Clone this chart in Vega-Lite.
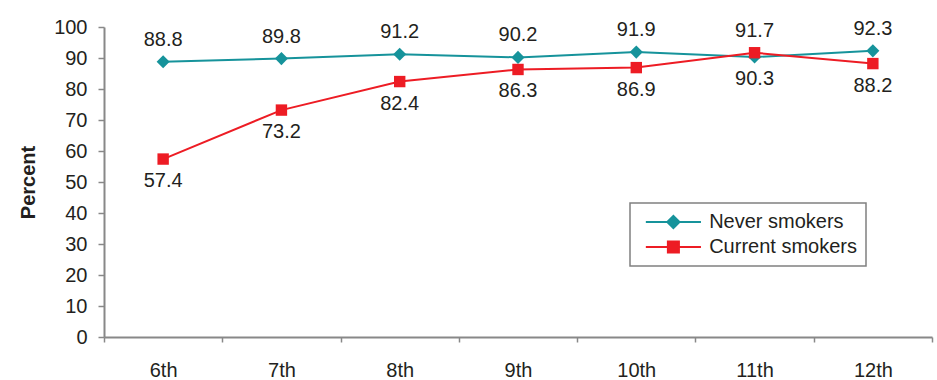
{
  "$schema": "https://vega.github.io/schema/vega-lite/v6.json",
  "width": 828,
  "height": 310,
  "autosize": {"type": "none"},
  "padding": {"left": 104, "top": 27, "right": 5, "bottom": 43},
  "background": "white",
  "config": {
    "font": "Liberation Sans",
    "view": {"stroke": null}
  },
  "data": {
    "values": [
      {"grade": "6th", "series": "Never smokers", "value": 88.8},
      {"grade": "7th", "series": "Never smokers", "value": 89.8},
      {"grade": "8th", "series": "Never smokers", "value": 91.2},
      {"grade": "9th", "series": "Never smokers", "value": 90.2},
      {"grade": "10th", "series": "Never smokers", "value": 91.9},
      {"grade": "11th", "series": "Never smokers", "value": 90.3},
      {"grade": "12th", "series": "Never smokers", "value": 92.3},
      {"grade": "6th", "series": "Current smokers", "value": 57.4},
      {"grade": "7th", "series": "Current smokers", "value": 73.2},
      {"grade": "8th", "series": "Current smokers", "value": 82.4},
      {"grade": "9th", "series": "Current smokers", "value": 86.3},
      {"grade": "10th", "series": "Current smokers", "value": 86.9},
      {"grade": "11th", "series": "Current smokers", "value": 91.7},
      {"grade": "12th", "series": "Current smokers", "value": 88.2}
    ]
  },
  "transform": [
    {"joinaggregate": [{"op": "max", "field": "value", "as": "maxv"}], "groupby": ["grade"]},
    {"calculate": "datum.value === datum.maxv", "as": "isTop"}
  ],
  "encoding": {
    "x": {
      "field": "grade", "type": "ordinal",
      "sort": ["6th", "7th", "8th", "9th", "10th", "11th", "12th"],
      "scale": {"type": "band", "paddingInner": 0, "paddingOuter": 0},
      "axis": {
        "title": null, "labelAngle": 0, "tickBand": "extent",
        "domainColor": "#888888", "domainWidth": 2, "tickColor": "#888888", "tickWidth": 1.5,
        "tickSize": 5, "labelPadding": 18, "labelFontSize": 20, "labelColor": "#231F20"
      }
    },
    "y": {
      "field": "value", "type": "quantitative",
      "scale": {"domain": [0, 100], "nice": false},
      "axis": {
        "title": "Percent", "titleFontSize": 20, "titleFontWeight": "bold", "titleColor": "#231F20",
        "titlePadding": 15,
        "values": [0, 10, 20, 30, 40, 50, 60, 70, 80, 90, 100],
        "grid": false, "domainColor": "#888888", "domainWidth": 2, "tickColor": "#888888", "tickWidth": 1.5,
        "tickSize": 6, "labelPadding": 11, "labelFontSize": 20, "labelColor": "#231F20"
      }
    }
  },
  "layer": [
    {
      "mark": {"type": "line", "strokeWidth": 2},
      "encoding": {
        "color": {
          "field": "series", "type": "nominal",
          "scale": {"domain": ["Never smokers", "Current smokers"], "range": ["#16939B", "#ED1C24"]},
          "legend": {
            "orient": "none", "legendX": 526, "legendY": 176, "title": null,
            "strokeColor": "#808080", "padding": 9,
            "labelFontSize": 20, "labelColor": "#231F20", "labelOffset": 25.75,
            "labelExpr": "datum.label + '       '",
            "symbolSize": 150, "symbolOffset": 24.4, "rowPadding": 4,
            "encode": {
              "legend": {"update": {"strokeWidth": {"value": 1.5}}},
              "symbols": {
                "update": {
                  "shape": {"signal": "datum.value === 'Never smokers' ? 'M-4.5,0H4.5M0,-1L1,0L0,1L-1,0Z' : 'M-4.5,0H4.5M-0.9,-0.9H0.9V0.9H-0.9Z'"},
                  "fill": {"signal": "scale('color', datum.value)"},
                  "stroke": {"signal": "scale('color', datum.value)"},
                  "strokeWidth": {"value": 2},
                  "opacity": {"value": 1},
                  "fillOpacity": {"value": 1}
                }
              }
            }
          }
        }
      }
    },
    {
      "mark": {"type": "point", "filled": true, "opacity": 1},
      "encoding": {
        "color": {"field": "series", "type": "nominal"},
        "shape": {"condition": {"test": "datum.series === 'Never smokers'", "value": "diamond"}, "value": "square"},
        "size": {"condition": {"test": "datum.series === 'Never smokers'", "value": 170}, "value": 130}
      }
    },
    {
      "transform": [{"filter": "datum.isTop"}],
      "mark": {"type": "text", "dy": -22, "fontSize": 20, "baseline": "middle"},
      "encoding": {"text": {"field": "value", "type": "quantitative", "format": ".1f"}, "color": {"value": "#231F20"}}
    },
    {
      "transform": [{"filter": "!datum.isTop"}],
      "mark": {"type": "text", "dy": 22, "fontSize": 20, "baseline": "middle"},
      "encoding": {"text": {"field": "value", "type": "quantitative", "format": ".1f"}, "color": {"value": "#231F20"}}
    }
  ]
}
